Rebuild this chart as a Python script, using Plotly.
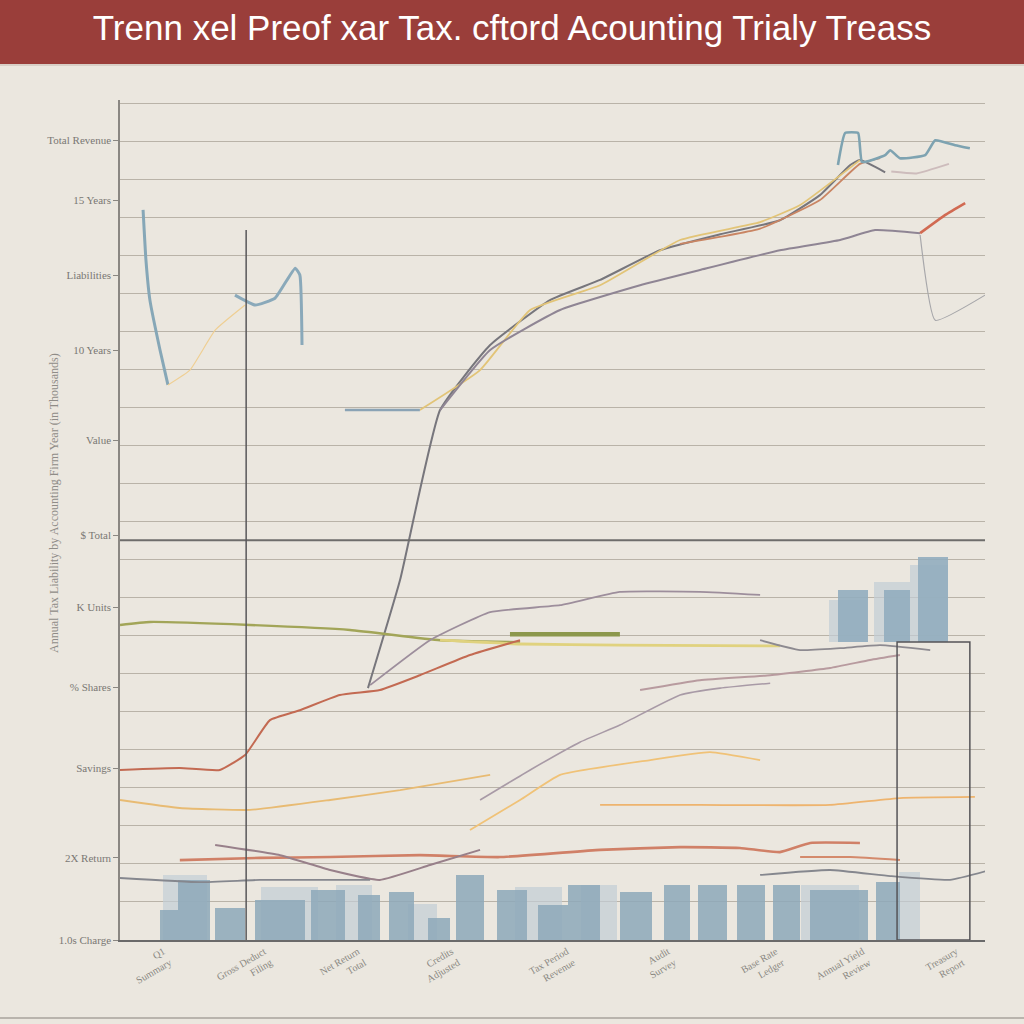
import plotly.graph_objects as go

# ---------------- data ----------------
title_text = "Trenn xel Preof xar Tax. cftord Acounting Trialy Treass"
y_title = "Annual Tax Liability by Accounting Firm Year (in Thousands)"

y_tick_vals = [21.02, 19.45, 17.48, 15.5, 13.14, 10.64, 8.75, 6.65, 4.52, 2.16, 0]
y_tick_text = ["Total Revenue", "15 Years", "Liabilities", "10 Years", "Value", "$ Total",
               "K Units", "% Shares", "Savings", "2X Return", "1.0s Charge"]

x_tick_vals = [1.2, 4.0, 6.6, 9.2, 12.4, 15.2, 18.2, 20.6, 23.2]
x_tick_text = ["Q1<br>Summary", "Gross Deduct<br>Filing", "Net Return<br>Total",
               "Credits<br>Adjusted", "Tax Period<br>Revenue", "Audit<br>Survey",
               "Base Rate<br>Ledger", "Annual Yield<br>Review", "Treasury<br>Report"]

gray_main_x = [6.88, 7.77, 8.88, 10.27, 11.93, 13.32, 14.98, 16.65, 18.31, 19.42, 20.26, 20.53, 21.23]
gray_main_y = [6.62, 9.46, 13.93, 15.64, 16.82, 17.35, 18.13, 18.55, 18.92, 19.58, 20.37, 20.50, 20.18]

tan_x = [8.32, 9.99, 11.38, 13.32, 15.54, 17.76, 18.87, 20.53]
tan_y = [13.93, 14.98, 16.56, 17.21, 18.40, 18.87, 19.32, 20.50]

orange_up_x = [15.54, 17.76, 19.42, 20.53, 21.09]
orange_up_y = [18.30, 18.70, 19.45, 20.40, 20.55]

purple_x = [8.88, 10.27, 12.21, 14.43, 16.09, 18.31, 19.98, 20.95, 22.20]
purple_y = [13.93, 15.51, 16.56, 17.21, 17.61, 18.13, 18.40, 18.66, 18.58]

red_end_x = [22.20, 22.90, 23.45]
red_end_y = [18.58, 19.06, 19.37]

teal_top_x = [19.92, 20.12, 20.48, 20.59, 21.23, 21.37, 21.64, 22.34, 22.62, 23.17, 23.58]
teal_top_y = [20.37, 21.21, 21.21, 20.45, 20.63, 20.76, 20.55, 20.63, 21.02, 20.89, 20.81]

pale_top_x = [21.40, 22.10, 23.00]
pale_top_y = [20.20, 20.15, 20.40]

gray_drop_x = [22.20, 22.62, 24.0]
gray_drop_y = [18.53, 16.29, 16.95]

teal_left_x = [0.64, 0.72, 0.83, 1.11, 1.33]
teal_left_y = [19.19, 17.87, 16.82, 15.51, 14.59]

teal_mid_x = [3.19, 3.75, 4.30, 4.86, 4.99, 5.05]
teal_mid_y = [16.95, 16.69, 16.87, 17.66, 17.48, 15.64]

pale_yellow_x = [1.33, 1.94, 2.64, 3.47]
pale_yellow_y = [14.59, 14.98, 16.03, 16.69]

blue_flat_x = [6.24, 8.32]
blue_flat_y = [13.93, 13.93]

olive_x = [0, 0.83, 3.61, 6.38, 8.88, 11.10]
olive_y = [8.28, 8.36, 8.28, 8.15, 7.88, 7.83]

yellow_x = [8.88, 11.10, 13.87, 18.31]
yellow_y = [7.88, 7.78, 7.75, 7.73]

green_x = [10.82, 13.87]
green_y = [8.04, 8.04]

plum_x = [6.94, 8.60, 10.27, 12.21, 13.87, 16.09, 17.76]
plum_y = [6.70, 7.88, 8.62, 8.80, 9.15, 9.15, 9.07]

slate_x = [17.76, 18.87, 19.98, 21.09, 22.48]
slate_y = [7.88, 7.62, 7.67, 7.75, 7.62]

rust_x = [0, 1.66, 2.77, 3.47, 4.16, 4.99, 6.10, 7.21, 8.32, 9.71, 11.10]
rust_y = [4.47, 4.52, 4.47, 4.86, 5.78, 6.04, 6.44, 6.57, 6.96, 7.49, 7.88]

rose_x = [14.43, 16.09, 18.04, 19.70, 20.81, 21.64]
rose_y = [6.57, 6.83, 6.96, 7.15, 7.36, 7.49]

mauve_mid_x = [9.99, 11.38, 12.76, 13.87, 15.54, 16.65, 18.04]
mauve_mid_y = [3.68, 4.47, 5.20, 5.65, 6.44, 6.62, 6.75]

amber1_x = [0, 1.66, 3.61, 5.83, 7.77, 10.27]
amber1_y = [3.68, 3.47, 3.42, 3.68, 3.94, 4.34]

amber2_x = [9.71, 11.10, 12.21, 14.71, 16.37, 17.76]
amber2_y = [2.89, 3.68, 4.34, 4.73, 4.94, 4.73]

amber3_x = [13.32, 16.09, 19.70, 21.64, 23.72]
amber3_y = [3.55, 3.55, 3.55, 3.73, 3.76]

red_low_x = [1.66, 3.88, 5.83, 8.32, 10.54, 13.32, 15.54, 17.20, 18.31, 19.15, 20.53]
red_low_y = [2.10, 2.16, 2.18, 2.23, 2.18, 2.37, 2.44, 2.42, 2.31, 2.55, 2.55]

red_low2_x = [18.87, 20.26, 21.64]
red_low2_y = [2.18, 2.18, 2.10]

mauve_low_x = [2.64, 4.44, 5.83, 7.21, 8.60, 9.99]
mauve_low_y = [2.50, 2.23, 1.84, 1.58, 1.97, 2.37]

gray_low_left_x = [0, 2.22, 3.88, 5.83, 6.94]
gray_low_left_y = [1.63, 1.52, 1.58, 1.58, 1.58]

gray_low_right_x = [17.76, 19.70, 21.37, 23.03, 24.14]
gray_low_right_y = [1.71, 1.84, 1.68, 1.58, 1.84]

bar_x = [1.39, 2.05, 3.05, 4.44, 5.77, 6.91, 7.82, 8.85, 9.71, 10.88, 12.02, 12.88,
         14.32, 15.45, 16.43, 17.51, 18.48, 19.95, 21.31]
bar_w = [0.55, 0.89, 0.83, 1.39, 0.92, 0.61, 0.69, 0.61, 0.80, 0.83, 0.83, 0.89,
         0.89, 0.72, 0.80, 0.78, 0.75, 1.61, 0.67]
bar_h = [0.79, 1.58, 0.84, 1.05, 1.31, 1.18, 1.26, 0.58, 1.71, 1.31, 0.92, 1.45,
         1.26, 1.45, 1.45, 1.45, 1.45, 1.31, 1.52]

back_x = [1.80, 4.70, 6.50, 8.40, 11.60, 13.30, 19.70, 21.90]
back_w = [1.20, 1.60, 1.00, 0.80, 1.30, 1.00, 1.60, 0.60]
back_h = [1.70, 1.40, 1.45, 0.95, 1.40, 1.45, 1.45, 1.80]

top_bar_x = [20.34, 21.56, 22.56]
top_bar_w = [0.83, 0.72, 0.83]
top_bar_h = [1.37, 1.37, 2.23]
top_bar_base = 7.83

top_back_x = [20.20, 21.45, 22.45]
top_back_w = [1.05, 1.08, 1.05]
top_back_h = [1.10, 1.57, 2.03]

# ---------------- figure ----------------
fig = go.Figure()

fig.add_trace(go.Bar(x=back_x, y=back_h, width=back_w, marker_color="#c3ced6",
                     opacity=0.7, marker_line_width=0))
fig.add_trace(go.Bar(x=bar_x, y=bar_h, width=bar_w, marker_color="#8ea9ba",
                     opacity=0.85, marker_line_width=0))
fig.add_trace(go.Bar(x=top_back_x, y=top_back_h, width=top_back_w, base=top_bar_base,
                     marker_color="#c3ced6", opacity=0.7, marker_line_width=0))
fig.add_trace(go.Bar(x=top_bar_x, y=top_bar_h, width=top_bar_w, base=top_bar_base,
                     marker_color="#93aebf", opacity=0.9, marker_line_width=0))

def line(x, y, color, width=2.0, opacity=1.0):
    fig.add_trace(go.Scatter(x=x, y=y, mode="lines", opacity=opacity,
                             line=dict(color=color, width=width, shape="spline", smoothing=0.4)))

line(gray_main_x, gray_main_y, "#77767c", 2.0)
line(tan_x, tan_y, "#e2c477", 1.8)
line(orange_up_x, orange_up_y, "#c98563", 1.8)
line(purple_x, purple_y, "#8f8594", 2.0)
line(red_end_x, red_end_y, "#d16a52", 2.6)
line(teal_top_x, teal_top_y, "#7ea3b1", 2.6)
line(pale_top_x, pale_top_y, "#cdbcbc", 2.0)
line(gray_drop_x, gray_drop_y, "#a7a7aa", 1.2)
line(teal_left_x, teal_left_y, "#86a7b7", 3.0)
line(teal_mid_x, teal_mid_y, "#8aa9ba", 3.0)
line(pale_yellow_x, pale_yellow_y, "#efcf93", 1.2)
line(blue_flat_x, blue_flat_y, "#8aa3b5", 2.5)
line(olive_x, olive_y, "#a2a558", 2.4)
line(yellow_x, yellow_y, "#e0d27e", 2.8)
line(green_x, green_y, "#8c984c", 4.5)
line(plum_x, plum_y, "#9d8e9c", 1.8)
line(slate_x, slate_y, "#8d8a90", 1.8)
line(rust_x, rust_y, "#c36a52", 2.0)
line(rose_x, rose_y, "#b89b9f", 2.0)
line(mauve_mid_x, mauve_mid_y, "#a89aa6", 1.6)
line(amber1_x, amber1_y, "#e8bb73", 1.8)
line(amber2_x, amber2_y, "#f0c277", 1.8)
line(amber3_x, amber3_y, "#eeb46e", 1.8)
line(red_low_x, red_low_y, "#d08067", 2.6)
line(red_low2_x, red_low2_y, "#d48a6c", 2.0)
line(mauve_low_x, mauve_low_y, "#98808a", 2.0)
line(gray_low_left_x, gray_low_left_y, "#85878e", 1.8)
line(gray_low_right_x, gray_low_right_y, "#85878e", 1.8)

shapes = [
    # title bar
    dict(type="rect", xref="paper", yref="paper", x0=-0.16, x1=1.07, y0=1.0417, y1=1.13,
         fillcolor="#9a3e3a", line_width=0, layer="below"),
    dict(type="line", xref="paper", yref="paper", x0=-0.16, x1=1.07, y0=1.0417, y1=1.0417,
         line=dict(color="#d8cfc6", width=2)),
    # heavy divider
    dict(type="line", xref="paper", yref="y", x0=0, x1=1, y0=10.51, y1=10.51,
         line=dict(color="#6e6d6b", width=2)),
    # vertical marker
    dict(type="line", xref="x", yref="y", x0=3.50, x1=3.50, y0=0, y1=18.66,
         line=dict(color="#58575a", width=1.5)),
    # highlight box
    dict(type="rect", xref="x", yref="y", x0=21.56, x1=23.58, y0=0, y1=7.83,
         line=dict(color="#555458", width=1.5)),
    # bottom frame
    dict(type="line", xref="paper", yref="paper", x0=-0.16, x1=1.07, y0=-0.0929, y1=-0.0929,
         line=dict(color="#b9b4ad", width=2)),
]

fig.update_layout(
    width=1024, height=1024,
    margin=dict(l=120, r=39, t=100, b=84, autoexpand=False),
    paper_bgcolor="#ebe7df", plot_bgcolor="#ebe7df",
    showlegend=False, barmode="overlay", bargap=0,
    shapes=shapes,
    title=dict(text=title_text, x=0.5, xanchor="center", y=0.973, yanchor="middle",
               font=dict(family="Liberation Sans, Arial", size=35, color="#ffffff")),
    font=dict(family="Liberation Serif, DejaVu Serif", color="#7a7874"),
    annotations=[dict(text=y_title, xref="paper", yref="paper", x=-0.087, y=0.52,
                      textangle=-90, showarrow=False,
                      font=dict(size=12, color="#8f8c87", family="Liberation Serif, DejaVu Serif"))],
)

fig.update_xaxes(range=[0, 24], showgrid=False, zeroline=False, automargin=False,
                 tickvals=x_tick_vals, ticktext=x_tick_text, tickangle=-30,
                 tickfont=dict(size=10, color="#8a8782"),
                 showline=True, linecolor="#6a6a6a", linewidth=2, ticks="")

fig.update_yaxes(range=[0, 22.08], showgrid=False, zeroline=False, automargin=False,
                 tickvals=y_tick_vals, ticktext=y_tick_text,
                 tickfont=dict(size=11, color="#7a7874"),
                 ticks="outside", ticklen=5, tickcolor="#8a8782",
                 showline=True, linecolor="#8a8782", linewidth=1.5,
                 minor=dict(dtick=1, tick0=0, showgrid=True, gridcolor="#b9b3a8", gridwidth=1.2))

fig.write_html("out.html")
